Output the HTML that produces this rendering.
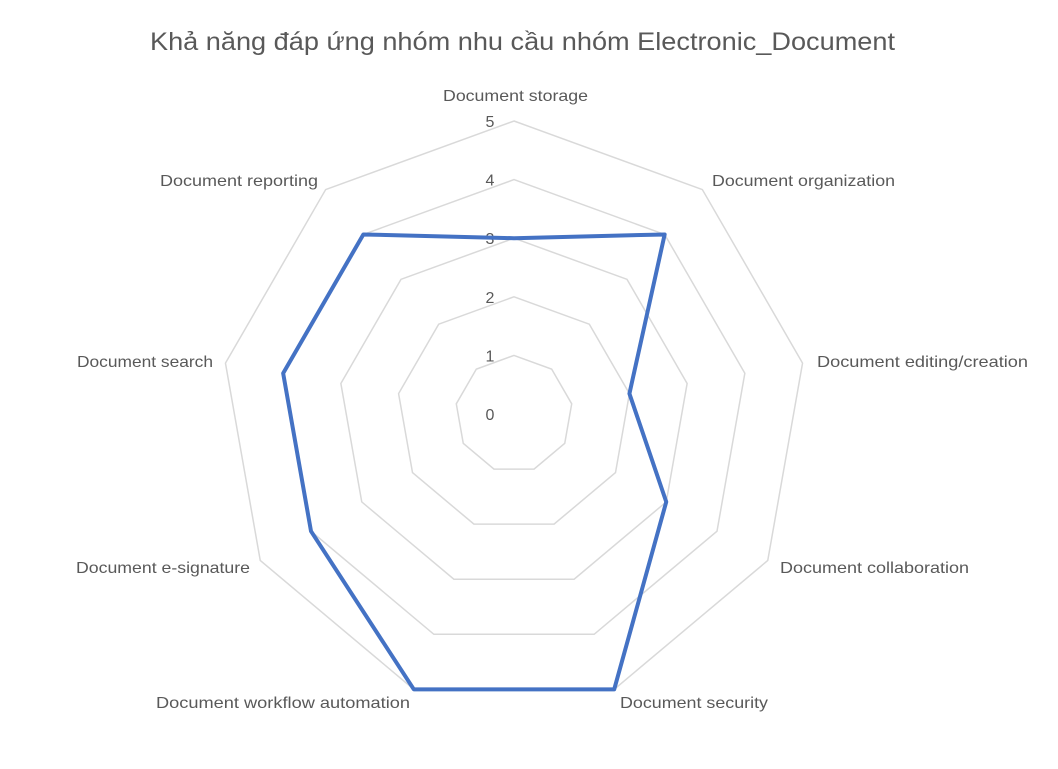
<!DOCTYPE html>
<html><head><meta charset="utf-8"><style>body{margin:0;background:#fff}</style></head>
<body>
<svg width="1058" height="764" xmlns="http://www.w3.org/2000/svg" font-family="Liberation Sans, DejaVu Sans, sans-serif">
<rect width="1058" height="764" fill="#fff"/>
<text x="150" y="50" font-size="25" fill="#595959" textLength="745" lengthAdjust="spacingAndGlyphs">Khả năng đáp ứng nhóm nhu cầu nhóm Electronic_Document</text>
<g id="grid" fill="none" stroke="#d9d9d9" stroke-width="1.5"></g>
<g id="ticks" font-size="16" fill="#595959" text-anchor="middle"></g>
<g id="labels" font-size="16" fill="#595959"></g>
<polygon id="data" fill="none" stroke="#4472c4" stroke-width="4" stroke-linejoin="round"/>
<script>
var cx=514,cy=414,u=58.6,ns="http://www.w3.org/2000/svg";
function pt(i,r){var a=i*40*Math.PI/180;return [cx+r*u*Math.sin(a),cy-r*u*Math.cos(a)];}
var g=document.getElementById('grid');
for(var k=1;k<=5;k++){var p=[];for(var i=0;i<9;i++)p.push(pt(i,k).join(','));var e=document.createElementNS(ns,'polygon');e.setAttribute('points',p.join(' '));g.appendChild(e);}
var t=document.getElementById('ticks');
for(var k=0;k<=5;k++){var e=document.createElementNS(ns,'text');e.setAttribute('x',490);e.setAttribute('y',cy-k*u+6);e.textContent=k;t.appendChild(e);}
var d=[3,4,2,3,5,5,4,4,4],p=[];for(var i=0;i<9;i++)p.push(pt(i,d[i]).join(','));
document.getElementById('data').setAttribute('points',p.join(' '));
var L=[["Document storage",443,101,145],["Document organization",712,186,183],["Document editing/creation",817,367,211],["Document collaboration",780,573,189],["Document security",620,708,148],["Document workflow automation",156,708,254],["Document e-signature",76,573,174],["Document search",77,367,136],["Document reporting",160,186,158]];
var lg=document.getElementById('labels');
L.forEach(function(l){var e=document.createElementNS(ns,'text');e.setAttribute('x',l[1]);e.setAttribute('y',l[2]);e.setAttribute('textLength',l[3]);e.setAttribute('lengthAdjust','spacingAndGlyphs');e.textContent=l[0];lg.appendChild(e);});
</script>
</svg>
</body></html>
